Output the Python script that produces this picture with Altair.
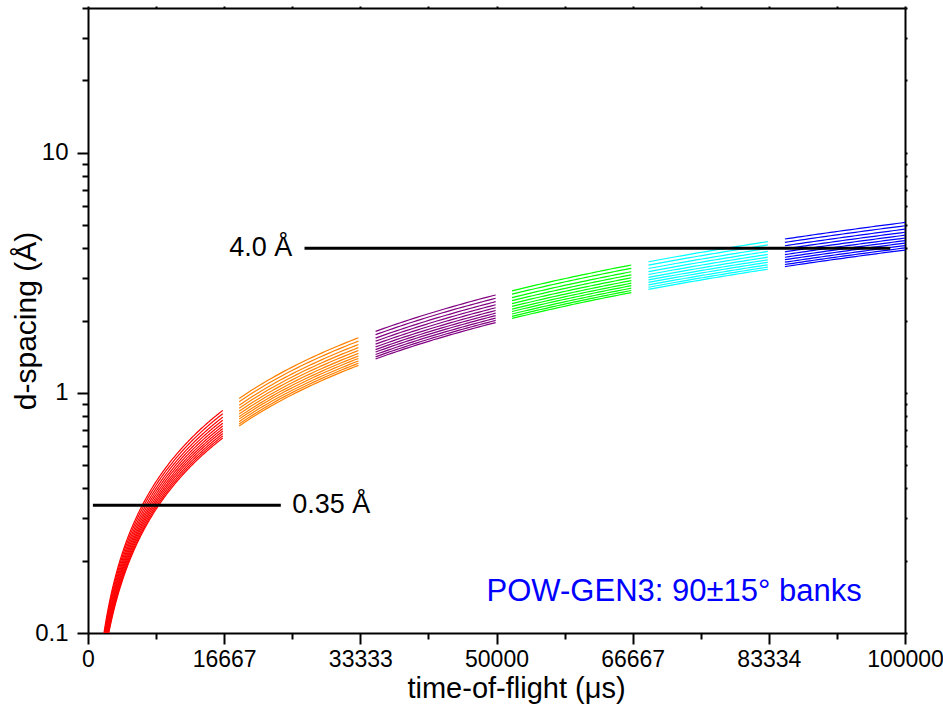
import altair as alt
import numpy as np
import pandas as pd

# ---- data ----
band_names = ["frame1", "frame2", "frame3", "frame4", "frame5", "frame6"]
band_colors = ["#ff0000", "#ff8000", "#800080", "#00ff00", "#00ffff", "#0000ff"]
frame_start_us = [1000, 18500, 35200, 51900, 68600, 85300]
frame_end_us = [16500, 33100, 49900, 66500, 83200, 100000]
# d-spacing (Å) reached at t = 100000 µs by each detector-angle line (75°..105° 2θ)
d_at_100000us = [5.12, 4.96, 4.80, 4.66, 4.53, 4.41, 4.30, 4.20, 4.10, 4.01, 3.93]

x_major_ticks = [0, 16667, 33333, 50000, 66667, 83334, 100000]
x_minor_ticks = [8333, 25000, 41667, 58333, 75000, 91667]
y_major_ticks = [0.1, 1, 10]
y_minor_ticks = [0.2, 0.3, 0.4, 0.5, 0.6, 0.7, 0.8, 0.9,
                 2, 3, 4, 5, 6, 7, 8, 9, 20, 30, 40]

ref_labels = ["4.0 Å", "0.35 Å"]
ref_d = [4.0, 0.34]
ref_t_start = [26500, 600]
ref_t_end = [98200, 23600]
ref_label_t = [25000, 25000]

note_text = "POW-GEN3: 90±15° banks"
note_t = 94700
note_d = 0.136

# ---- build tables ----
rows = []
for b, (name, t0, t1) in enumerate(zip(band_names, frame_start_us, frame_end_us)):
    n = 160 if b == 0 else 30
    for i, dmax in enumerate(d_at_100000us):
        for t in np.linspace(t0, t1, n):
            rows.append({"band": name, "line": f"{name}-{i}", "t": t, "d": dmax * t / 100000.0})
curves = pd.DataFrame(rows)

refs = pd.DataFrame({"label": ref_labels, "d": ref_d, "t0": ref_t_start,
                     "t1": ref_t_end, "tl": ref_label_t})
note = pd.DataFrame({"text": [note_text], "t": [note_t], "d": [note_d]})

FONT = "Liberation Sans"
x_scale = alt.Scale(domain=[0, 100000], nice=False, zero=False)
y_scale = alt.Scale(type="log", domain=[0.1, 40], nice=False)

common = dict(domainColor="black", tickColor="black", grid=False, tickWidth=2,
              domainWidth=2)

x_major_axis = alt.Axis(values=x_major_ticks, format="d", orient="bottom",
                        title="time-of-flight (μs)", tickSize=11,
                        labelFont=FONT, labelFontSize=23, labelColor="black",
                        labelPadding=4, labelFlush=False, labelOverlap=False,
                        titleFont=FONT, titleFontSize=29, titleFontWeight="normal",
                        titleColor="black", titleX=428, titleY=64,
                        titleBaseline="alphabetic", **common)
y_major_axis = alt.Axis(values=y_major_ticks, format="~g", orient="left",
                        title="d-spacing (Å)", tickSize=11,
                        labelFont=FONT, labelFontSize=24, labelColor="black",
                        labelPadding=9, labelFlush=False, labelOverlap=False,
                        titleFont=FONT, titleFontSize=30, titleFontWeight="normal",
                        titleColor="black", titleX=-53, titleBaseline="alphabetic",
                        **common)
x_minor_axis = alt.Axis(values=x_minor_ticks, orient="bottom", labels=False,
                        domain=False, tickSize=6, title=None, **common)
y_minor_axis = alt.Axis(values=y_minor_ticks, orient="left", labels=False,
                        domain=False, tickSize=6, title=None, **common)
x_top_axis = alt.Axis(values=x_major_ticks + x_minor_ticks, orient="top",
                      labels=False, tickSize=2, title=None, **common)
y_right_axis = alt.Axis(values=y_major_ticks + y_minor_ticks, orient="right",
                        labels=False, tickSize=2, title=None, **common)

lines = alt.Chart(curves).mark_line(strokeWidth=1.2, clip=True).encode(
    x=alt.X("t:Q", scale=x_scale, axis=x_major_axis),
    y=alt.Y("d:Q", scale=y_scale, axis=y_major_axis),
    color=alt.Color("band:N", scale=alt.Scale(domain=band_names, range=band_colors),
                    legend=None),
    detail="line:N",
)

rules = alt.Chart(refs).mark_rule(strokeWidth=3, color="black").encode(
    x=alt.X("t0:Q", scale=x_scale, axis=x_minor_axis),
    x2="t1:Q",
    y=alt.Y("d:Q", scale=y_scale, axis=y_minor_axis),
)

label40 = alt.Chart(refs.iloc[[0]]).mark_text(
    align="right", baseline="middle", font=FONT, fontSize=27, color="black"
).encode(
    x=alt.X("tl:Q", scale=x_scale, axis=x_top_axis),
    y=alt.Y("d:Q", scale=y_scale, axis=y_right_axis),
    text="label:N",
)

label035 = alt.Chart(refs.iloc[[1]]).mark_text(
    align="left", baseline="middle", font=FONT, fontSize=27, color="black"
).encode(
    x=alt.X("tl:Q", scale=x_scale, axis=None),
    y=alt.Y("d:Q", scale=y_scale, axis=None),
    text="label:N",
)

note_layer = alt.Chart(note).mark_text(
    align="right", baseline="alphabetic", font=FONT, fontSize=31, color="#0000ff"
).encode(
    x=alt.X("t:Q", scale=x_scale, axis=None),
    y=alt.Y("d:Q", scale=y_scale, axis=None),
    text="text:N",
)

chart = alt.layer(lines, rules, label40, label035, note_layer).resolve_axis(
    x="independent", y="independent"
).properties(
    width=817, height=625,
    padding={"left": 88, "top": 8, "right": 38, "bottom": 73},
    autosize=alt.AutoSizeParams(type="none"),
    background="white",
).configure_view(stroke=None)

chart.save("out.html", embed_options={"renderer": "svg", "actions": False})
